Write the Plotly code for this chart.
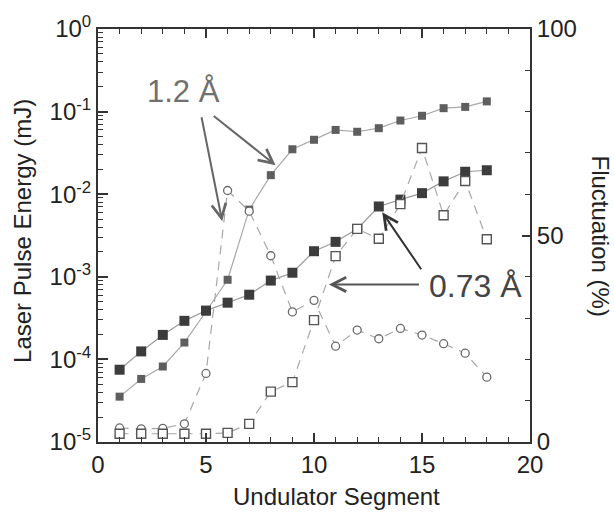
import plotly.graph_objects as go

# ---- data ----
segments = list(range(1, 19))
energy_073 = [7.5e-5, 1.25e-4, 1.98e-4, 2.93e-4, 3.9e-4, 4.86e-4, 6.07e-4, 9.0e-4, 1.12e-3,
              2.04e-3, 2.65e-3, 3.8e-3, 7.1e-3, 8.6e-3, 1.03e-2, 1.43e-2, 1.87e-2, 1.95e-2]
energy_12 = [3.54e-5, 5.8e-5, 8.2e-5, 1.6e-4, 3.8e-4, 9.2e-4, 6.5e-3, 1.7e-2, 3.5e-2,
             4.56e-2, 6.0e-2, 5.7e-2, 6.3e-2, 7.8e-2, 8.9e-2, 0.110, 0.114, 0.133]
fluct_12 = [3.4, 3.2, 3.3, 4.4, 16.6, 60.9, 55.9, 45.1, 31.5,
            34.3, 23.2, 27.1, 25.0, 27.5, 25.9, 23.8, 21.5, 15.7]
fluct_073 = [2.0, 2.0, 2.0, 2.0, 2.0, 2.2, 4.4, 12.2, 14.5,
             29.5, 45.0, 51.6, 49.2, 57.6, 71.2, 54.9, 63.2, 49.1]

log_tickvals = [1e-5, 1e-4, 1e-3, 1e-2, 1e-1, 1e0]
log_ticktext = ["10<sup>-5</sup>", "10<sup>-4</sup>", "10<sup>-3</sup>",
                "10<sup>-2</sup>", "10<sup>-1</sup>", "10<sup>0</sup>"]
minor_log = [k * d for d in [1e-5, 1e-4, 1e-3, 1e-2, 1e-1] for k in range(2, 10)]

FONT = "Liberation Sans, Arial, sans-serif"
AX = "#333333"

fig = go.Figure()

# fluctuation traces (right axis)
fig.add_trace(go.Scatter(
    x=segments, y=fluct_12, yaxis="y2", mode="lines+markers",
    line=dict(color="#a8a8a8", width=1.2, dash="9px,7px"),
    marker=dict(symbol="circle", size=8, color="white",
                line=dict(color="#6a6a6a", width=1.3)),
    showlegend=False))
fig.add_trace(go.Scatter(
    x=segments, y=fluct_073, yaxis="y2", mode="lines+markers",
    line=dict(color="#a8a8a8", width=1.2, dash="9px,7px"),
    marker=dict(symbol="square", size=9, color="white",
                line=dict(color="#555555", width=1.4)),
    showlegend=False))

# energy traces (left log axis)
fig.add_trace(go.Scatter(
    x=segments, y=energy_12, mode="lines+markers",
    line=dict(color="#a8a8a8", width=1.2),
    marker=dict(symbol="square", size=8, color="#5e5e5e"),
    showlegend=False))
fig.add_trace(go.Scatter(
    x=segments, y=energy_073, mode="lines+markers",
    line=dict(color="#9a9a9a", width=1.2),
    marker=dict(symbol="square", size=10, color="#3c3c3c"),
    showlegend=False))

ann = []
# labels
ann.append(dict(x=3.96, y=-0.754, xref="x", yref="y", text="1.2 Å", showarrow=False,
                font=dict(family=FONT, size=31, color="#707070"),
                xanchor="center", yanchor="middle"))
ann.append(dict(x=17.48, y=-3.108, xref="x", yref="y", text="0.73 Å", showarrow=False,
                font=dict(family=FONT, size=32, color="#444444"),
                xanchor="center", yanchor="middle"))
# arrows (head x,y ; tail ax,ay) in data units (log10 for the log axis)
arrows = [
    (5.75, -2.327, 4.78, -1.050, "#666666"),
    (8.22, -1.649, 5.29, -1.038, "#666666"),
    (10.69, -3.093, 14.93, -3.093, "#555555"),
    (13.16, -2.219, 15.01, -2.926, "#333333"),
]
for hx, hy, tx, ty, c in arrows:
    ann.append(dict(x=hx, y=hy, ax=tx, ay=ty, xref="x", yref="y", axref="x", ayref="y",
                    text="", showarrow=True, arrowhead=5, arrowsize=1.4, arrowwidth=2,
                    arrowcolor=c, standoff=0, startstandoff=0))
# axis titles
ann.append(dict(x=0.553, y=-0.1316, xref="paper", yref="paper", text="Undulator Segment",
                showarrow=False, font=dict(family=FONT, size=24, color="#222222"),
                xanchor="center", yanchor="middle"))
ann.append(dict(x=-0.175, y=0.512, xref="paper", yref="paper", text="Laser Pulse Energy (mJ)",
                showarrow=False, textangle=-90, font=dict(family=FONT, size=24, color="#222222"),
                xanchor="center", yanchor="middle"))
ann.append(dict(x=1.164, y=0.498, xref="paper", yref="paper", text="Fluctuation (%)",
                showarrow=False, textangle=90, font=dict(family=FONT, size=24, color="#222222"),
                xanchor="center", yanchor="middle"))

fig.update_layout(
    width=614, height=515,
    margin=dict(l=98, r=84, t=24, b=73),
    paper_bgcolor="white", plot_bgcolor="white",
    font=dict(family=FONT, size=24, color="#222222"),
    annotations=ann,
    xaxis=dict(range=[0, 20], tickvals=[0, 5, 10, 15, 20], ticks="inside", ticklen=9,
               tickwidth=1.5, tickcolor=AX, showline=True, linecolor=AX, linewidth=2,
               mirror="ticks", showgrid=False, zeroline=False,
               minor=dict(dtick=1, tick0=0, ticks="inside", ticklen=5, tickcolor=AX,
                          tickwidth=1.2, showgrid=False),
               tickfont=dict(family=FONT, size=24, color="#222222")),
    yaxis=dict(type="log", range=[-5, 0], tickmode="array", tickvals=log_tickvals,
               ticktext=log_ticktext, ticks="inside", ticklen=10, tickwidth=1.5,
               tickcolor=AX, showline=True, linecolor=AX, linewidth=2, showgrid=False,
               zeroline=False,
               minor=dict(tickmode="array", tickvals=minor_log, ticks="inside", ticklen=5,
                          tickcolor=AX, tickwidth=1.2, showgrid=False),
               tickfont=dict(family=FONT, size=24, color="#222222")),
    yaxis2=dict(range=[0, 100], overlaying="y", side="right", tickvals=[0, 50, 100],
                ticks="inside", ticklen=8, tickwidth=1.5, tickcolor=AX, showline=True,
                linecolor=AX, linewidth=2, showgrid=False, zeroline=False,
                minor=dict(dtick=10, tick0=0, ticks="inside", ticklen=5, tickcolor=AX,
                           tickwidth=1.2, showgrid=False),
                tickfont=dict(family=FONT, size=24, color="#222222")),
)

fig.write_html("out.html", config={"displayModeBar": False},
               post_script="document.body.style.margin='0px';")
